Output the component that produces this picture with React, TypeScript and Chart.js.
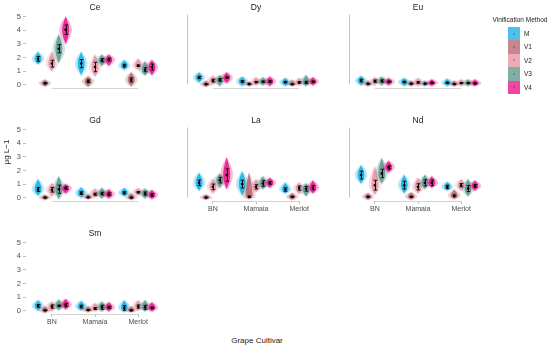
import React, { useEffect, useRef } from "react";
import { Chart, registerables } from "chart.js";
Chart.register(...registerables);

// ---------------- data ----------------
const categories = ["BN", "Mamaia", "Merlot"];
const methods = ["M", "V1", "V2", "V3", "V4"];
const yTickValues = [0, 1, 2, 3, 4, 5];

// order: BN(M,V1,V2,V3,V4), Mamaia(...), Merlot(...)
const ceMean = [1.9, 0.1, 1.55, 2.65, 4.05, 1.55, 0.25, 1.3, 1.8, 1.85, 1.4, 0.35, 1.4, 1.1, 1.3];
const ceSe = [0.18, 0.05, 0.25, 0.3, 0.35, 0.3, 0.1, 0.35, 0.12, 0.1, 0.1, 0.15, 0.05, 0.15, 0.22];
const ceMin = [1.5, -0.12, 1.0, 1.6, 3.0, 0.7, -0.15, 0.6, 1.4, 1.4, 1.1, -0.12, 1.1, 0.7, 0.7];
const ceMax = [2.4, 0.35, 2.4, 3.7, 5.0, 2.4, 0.6, 2.2, 2.2, 2.2, 1.8, 0.9, 1.9, 1.7, 1.8];

const dyMean = [0.5, 0.02, 0.28, 0.33, 0.5, 0.22, 0.03, 0.17, 0.2, 0.22, 0.17, 0.02, 0.15, 0.15, 0.2];
const dySe = [0.08, 0.02, 0.1, 0.1, 0.05, 0.06, 0.02, 0.04, 0.05, 0.07, 0.05, 0.02, 0.05, 0.08, 0.05];
const dyMin = [0.15, -0.15, 0, -0.1, 0.1, -0.1, -0.1, -0.05, -0.05, -0.1, -0.1, -0.1, -0.05, -0.1, -0.05];
const dyMax = [0.85, 0.25, 0.6, 0.65, 0.85, 0.55, 0.2, 0.5, 0.5, 0.55, 0.45, 0.3, 0.45, 0.65, 0.5];

const euMean = [0.28, 0.05, 0.24, 0.25, 0.2, 0.18, 0.06, 0.15, 0.06, 0.12, 0.12, 0.03, 0.1, 0.1, 0.08];
const euSe = [0.1, 0.02, 0.08, 0.08, 0.04, 0.05, 0.02, 0.06, 0.02, 0.04, 0.04, 0.02, 0.03, 0.03, 0.03];
const euMin = [-0.05, -0.1, -0.05, -0.05, -0.05, -0.1, -0.1, -0.1, -0.1, -0.1, -0.1, -0.1, -0.1, -0.1, -0.1];
const euMax = [0.6, 0.25, 0.5, 0.55, 0.45, 0.45, 0.25, 0.45, 0.25, 0.35, 0.4, 0.25, 0.35, 0.35, 0.35];

const gdMean = [0.6, 0.0, 0.58, 0.62, 0.7, 0.33, 0.02, 0.25, 0.3, 0.25, 0.35, 0.0, 0.4, 0.3, 0.2];
const gdSe = [0.15, 0.02, 0.17, 0.3, 0.1, 0.1, 0.02, 0.08, 0.1, 0.1, 0.08, 0.03, 0.05, 0.12, 0.1];
const gdMin = [0.15, -0.15, 0.1, -0.1, 0.3, 0, -0.1, 0, -0.05, -0.05, 0.1, -0.15, 0.15, -0.05, -0.1];
const gdMax = [1.35, 0.2, 1.05, 1.55, 1.0, 0.75, 0.25, 0.65, 0.7, 0.6, 0.7, 0.3, 0.7, 0.65, 0.55];

const laMean = [1.05, 0.0, 0.76, 1.24, 1.6, 0.96, 0.05, 0.76, 1.0, 1.05, 0.57, 0.05, 0.67, 0.62, 0.7];
const laSe = [0.2, 0.02, 0.2, 0.2, 0.45, 0.28, 0.05, 0.15, 0.2, 0.1, 0.12, 0.03, 0.15, 0.17, 0.15];
const laMin = [0.5, -0.15, 0.3, 0.7, 0.6, 0.15, -0.1, 0.4, 0.6, 0.7, 0.3, -0.15, 0.25, 0.1, 0.3];
const laMax = [1.75, 0.2, 1.3, 1.7, 2.85, 1.85, 1.75, 1.3, 1.5, 1.4, 1.05, 0.3, 1.05, 1.0, 1.2];

const ndMean = [1.6, 0.05, 0.88, 1.72, 2.15, 0.88, 0.05, 0.76, 1.05, 1.05, 0.76, 0.12, 0.88, 0.64, 0.83];
const ndSe = [0.28, 0.03, 0.35, 0.3, 0.12, 0.28, 0.03, 0.22, 0.22, 0.2, 0.12, 0.07, 0.12, 0.22, 0.1];
const ndMin = [1.0, -0.15, 0.2, 1.0, 1.8, 0.3, -0.15, 0.3, 0.6, 0.7, 0.5, -0.1, 0.5, 0.1, 0.5];
const ndMax = [2.3, 0.3, 2.2, 2.8, 2.6, 1.6, 0.35, 1.4, 1.6, 1.5, 1.1, 0.55, 1.3, 1.3, 1.2];

const smMean = [0.35, 0.02, 0.3, 0.35, 0.42, 0.3, 0.05, 0.15, 0.25, 0.25, 0.2, 0.02, 0.3, 0.25, 0.2];
const smSe = [0.1, 0.02, 0.12, 0.05, 0.12, 0.1, 0.03, 0.07, 0.15, 0.08, 0.17, 0.03, 0.12, 0.15, 0.05];
const smMin = [0, -0.15, -0.05, 0.05, 0.1, 0, -0.1, -0.05, -0.05, -0.05, -0.1, -0.1, 0, -0.05, -0.05];
const smMax = [0.75, 0.3, 0.65, 0.8, 0.85, 0.7, 0.3, 0.55, 0.65, 0.6, 0.75, 0.3, 0.75, 0.75, 0.6];

// ---------------- styling / layout ----------------
const COLORS = [
  [30, 178, 230],
  [181, 106, 114],
  [232, 150, 166],
  [94, 156, 146],
  [236, 24, 140],
];
const FONT = "'Liberation Sans', Arial, sans-serif";
const COL_LEFT = [26, 187, 349];
const ROW_TOP = [11, 124, 237];
const PW = 138;
const PH = 77;
const PAD_L = 26;
const PAD_T = 4;
const PAD_R = 4;
const PAD_B = 22;
const DODGE = 0.16;

const panels = [
  { name: "Ce", mean: ceMean, se: ceSe, vmin: ceMin, vmax: ceMax, col: 0, row: 0, xl: false },
  { name: "Dy", mean: dyMean, se: dySe, vmin: dyMin, vmax: dyMax, col: 1, row: 0, xl: false },
  { name: "Eu", mean: euMean, se: euSe, vmin: euMin, vmax: euMax, col: 2, row: 0, xl: false },
  { name: "Gd", mean: gdMean, se: gdSe, vmin: gdMin, vmax: gdMax, col: 0, row: 1, xl: false },
  { name: "La", mean: laMean, se: laSe, vmin: laMin, vmax: laMax, col: 1, row: 1, xl: true },
  { name: "Nd", mean: ndMean, se: ndSe, vmin: ndMin, vmax: ndMax, col: 2, row: 1, xl: true },
  { name: "Sm", mean: smMean, se: smSe, vmin: smMin, vmax: smMax, col: 0, row: 2, xl: true },
];

function rgba(c: number[], a: number) {
  return `rgba(${c[0]},${c[1]},${c[2]},${a})`;
}

function violinPath(ctx: CanvasRenderingContext2D, cx: number, yLo: number, yHi: number, yM: number, hw: number) {
  const N = 28;
  let p = (yLo - yM) / (yLo - yHi || 1);
  p = Math.min(0.85, Math.max(0.12, p));
  const pts: number[][] = [];
  for (let i = 0; i <= N; i++) {
    const t = i / N;
    const u = t < p ? t / p : (1 - t) / (1 - p);
    const w = hw * Math.pow(Math.sin((Math.PI / 2) * Math.max(0, Math.min(1, u))), 1.0);
    pts.push([yLo + (yHi - yLo) * t, w]);
  }
  ctx.beginPath();
  pts.forEach(([y, w], i) => (i === 0 ? ctx.moveTo(cx + w, y) : ctx.lineTo(cx + w, y)));
  for (let i = pts.length - 1; i >= 0; i--) ctx.lineTo(cx - pts[i][1], pts[i][0]);
  ctx.closePath();
}

const violinPlugin = {
  id: "violins",
  beforeDatasetsDraw(chart: any, _args: any, opts: any) {
    const ctx: CanvasRenderingContext2D = chart.ctx;
    const xs = chart.scales.x;
    const ys = chart.scales.y;
    const area = chart.chartArea;
    ctx.save();
    // capped axis lines
    ctx.strokeStyle = "#d4d4d4";
    ctx.lineWidth = 1;
    ctx.beginPath();
    const by = Math.round(area.bottom) + 0.5;
    ctx.moveTo(xs.getPixelForValue(1), by);
    ctx.lineTo(xs.getPixelForValue(3), by);
    ctx.stroke();
    if (opts.vline) {
      ctx.strokeStyle = "#c4c4c4";
      ctx.beginPath();
      const lx = Math.round(area.left) + 0.5;
      ctx.moveTo(lx, ys.getPixelForValue(5));
      ctx.lineTo(lx, ys.getPixelForValue(0));
      ctx.stroke();
    }
    // violins (halo of jittered points, then body)
    chart.data.datasets.forEach((ds: any) => {
      const col = ds.rgb;
      ds.data.forEach((pt: any, i: number) => {
        const cx = xs.getPixelForValue(pt.x);
        const hw = xs.getPixelForValue(pt.x + 0.08) - cx;
        const yLo = ys.getPixelForValue(ds.vmin[i]);
        const yHi = ys.getPixelForValue(ds.vmax[i]);
        const yM = ys.getPixelForValue(pt.y);
        violinPath(ctx, cx, yLo + 1, yHi - 1, yM, hw * 1.8);
        ctx.fillStyle = rgba(col, 0.3);
        ctx.fill();
        violinPath(ctx, cx, yLo, yHi, yM, hw);
        ctx.fillStyle = rgba(col, 0.9);
        ctx.fill();
      });
    });
    // error bars
    ctx.strokeStyle = "#111";
    ctx.lineWidth = 1;
    chart.data.datasets.forEach((ds: any) => {
      ds.data.forEach((pt: any, i: number) => {
        const cx = Math.round(xs.getPixelForValue(pt.x)) + 0.5;
        const y1 = ys.getPixelForValue(pt.y - ds.se[i]);
        const y2 = ys.getPixelForValue(pt.y + ds.se[i]);
        ctx.beginPath();
        ctx.moveTo(cx, y1);
        ctx.lineTo(cx, y2);
        ctx.moveTo(cx - 1.8, y1);
        ctx.lineTo(cx + 1.8, y1);
        ctx.moveTo(cx - 1.8, y2);
        ctx.lineTo(cx + 1.8, y2);
        ctx.stroke();
      });
    });
    ctx.restore();
  },
};

function Panel({ p }: { p: (typeof panels)[number] }) {
  const ref = useRef<HTMLCanvasElement>(null);
  const cw = PAD_L + PW + PAD_R;
  const ch = PAD_T + PH + PAD_B;
  useEffect(() => {
    if (!ref.current) return;
    const datasets = methods.map((m, mi) => ({
      label: m,
      rgb: COLORS[mi],
      se: categories.map((_, ci) => p.se[ci * 5 + mi]),
      vmin: categories.map((_, ci) => p.vmin[ci * 5 + mi]),
      vmax: categories.map((_, ci) => p.vmax[ci * 5 + mi]),
      data: categories.map((_, ci) => ({ x: ci + 1 + (mi - 2) * DODGE, y: p.mean[ci * 5 + mi] })),
      pointRadius: 1.3,
      pointBackgroundColor: "#000",
      pointBorderWidth: 0,
      showLine: false,
    }));
    const chart = new Chart(ref.current, {
      type: "scatter",
      data: { datasets: datasets as any },
      plugins: [violinPlugin as any],
      options: {
        animation: false,
        responsive: false,
        devicePixelRatio: 1,
        events: [],
        layout: { padding: { left: 0, top: PAD_T, right: PAD_R, bottom: 0 } },
        plugins: {
          legend: { display: false },
          tooltip: { enabled: false },
          violins: { vline: p.col > 0 },
        } as any,
        scales: {
          x: {
            type: "linear",
            min: 0.4,
            max: 3.6,
            afterBuildTicks: (s: any) => {
              s.ticks = [1, 2, 3].map((v) => ({ value: v }));
            },
            afterFit: (s: any) => {
              s.height = PAD_B;
            },
            ticks: {
              display: p.xl,
              autoSkip: false,
              maxRotation: 0,
              padding: 1,
              color: "#4d4d4d",
              font: { family: FONT, size: 7 },
              callback: (v: any) => categories[Math.round(Number(v)) - 1] ?? "",
            },
            grid: {
              display: p.xl,
              drawOnChartArea: false,
              drawTicks: true,
              tickLength: 3,
              color: "#bdbdbd",
            },
            border: { display: false },
          },
          y: {
            type: "linear",
            min: -0.25,
            max: 5.25,
            afterBuildTicks: (s: any) => {
              s.ticks = yTickValues.map((v) => ({ value: v }));
            },
            afterFit: (s: any) => {
              s.width = PAD_L;
            },
            ticks: {
              display: p.col === 0,
              padding: 2,
              color: "#4d4d4d",
              font: { family: FONT, size: 7.5 },
            },
            grid: {
              display: p.col === 0,
              drawOnChartArea: false,
              drawTicks: true,
              tickLength: 3,
              color: "#bdbdbd",
            },
            border: { display: false },
          },
        },
      } as any,
    });
    return () => chart.destroy();
  }, []);
  const left = COL_LEFT[p.col] - PAD_L;
  const top = ROW_TOP[p.row] - PAD_T;
  return (
    <>
      <canvas
        ref={ref}
        width={cw}
        height={ch}
        style={{ position: "absolute", left, top, width: cw, height: ch }}
      />
      <div
        style={{
          position: "absolute",
          left: COL_LEFT[p.col],
          width: PW,
          top: ROW_TOP[p.row] - 10,
          height: 12,
          lineHeight: "12px",
          textAlign: "center",
          fontSize: 8.5,
          color: "#1a1a1a",
        }}
      >
        {p.name}
      </div>
    </>
  );
}

export default function App() {
  return (
    <div
      style={{
        position: "fixed",
        left: 0,
        top: 0,
        width: 550,
        height: 348,
        background: "#fff",
        fontFamily: FONT,
        overflow: "hidden",
      }}
    >
      {panels.map((p) => (
        <Panel key={p.name} p={p} />
      ))}
      <div
        style={{
          position: "absolute",
          left: 0,
          top: 145,
          width: 14,
          height: 14,
          lineHeight: "14px",
          fontSize: 8,
          color: "#1a1a1a",
          textAlign: "center",
        }}
      >
        <div style={{ transform: "rotate(-90deg)", whiteSpace: "nowrap", width: 14, display: "flex", justifyContent: "center" }}>
          μg L−1
        </div>
      </div>
      <div
        style={{
          position: "absolute",
          left: 207,
          width: 100,
          top: 335,
          height: 12,
          lineHeight: "12px",
          textAlign: "center",
          fontSize: 8,
          color: "#1a1a1a",
        }}
      >
        Grape Cultivar
      </div>
      <div
        style={{
          position: "absolute",
          left: 482,
          width: 76,
          top: 15,
          height: 10,
          lineHeight: "10px",
          textAlign: "center",
          fontSize: 6.5,
          color: "#1a1a1a",
          whiteSpace: "nowrap",
        }}
      >
        Vinification Method
      </div>
      {methods.map((m, i) => (
        <React.Fragment key={m}>
          <div
            style={{
              position: "absolute",
              left: 508,
              top: 27 + i * 13.4,
              width: 12,
              height: 13.4,
              background: rgba(COLORS[i], 0.8),
            }}
          >
            <div
              style={{
                position: "absolute",
                left: 5,
                top: 5.7,
                width: 2,
                height: 2,
                borderRadius: 1,
                background: rgba([0, 0, 0], 0.25),
              }}
            />
          </div>
          <div
            style={{
              position: "absolute",
              left: 524,
              top: 27 + i * 13.4,
              height: 13.4,
              lineHeight: "13.4px",
              fontSize: 6.5,
              color: "#1a1a1a",
            }}
          >
            {m}
          </div>
        </React.Fragment>
      ))}
    </div>
  );
}
